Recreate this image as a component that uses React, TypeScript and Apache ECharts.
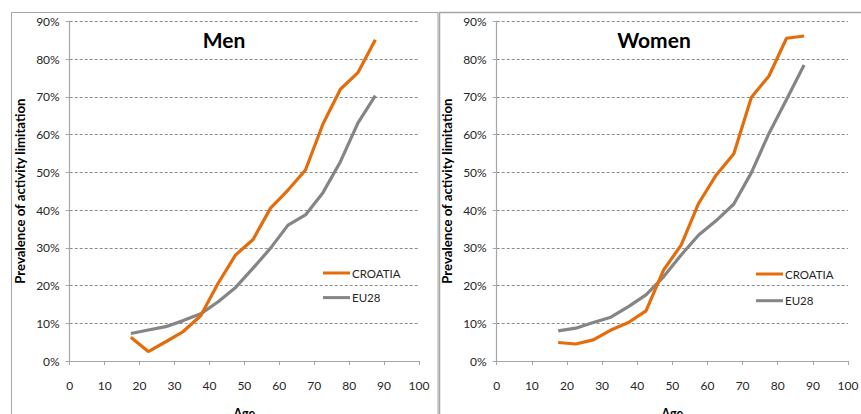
import React, { useEffect, useRef } from "react";
import * as echarts from "echarts";

const ages = [17.5, 22.5, 27.5, 32.5, 37.5, 42.5, 47.5, 52.5, 57.5, 62.5, 67.5, 72.5, 77.5, 82.5, 87.5];
const menCroatia = [6.3, 2.5, 5.1, 7.8, 12.0, 20.6, 28.1, 32.2, 40.5, 45.3, 50.6, 62.8, 72.0, 76.4, 85.1];
const menEU28 = [7.3, 8.2, 9.1, 10.7, 12.5, 15.7, 19.5, 24.6, 29.9, 36.0, 38.7, 44.6, 52.8, 63.0, 70.3];
const womenCroatia = [4.9, 4.5, 5.6, 8.2, 10.2, 13.3, 24.1, 30.7, 41.8, 49.3, 54.9, 69.9, 75.5, 85.5, 86.1];
const womenEU28 = [8.0, 8.7, 10.2, 11.6, 14.4, 17.5, 22.3, 28.1, 33.4, 37.2, 41.6, 49.9, 60.3, 69.3, 78.4];
const panelTitles = ["Men", "Women"];
const seriesNames = ["CROATIA", "EU28"];
const xAxisName = "Age";
const yAxisName = "Prevalence of activity limitation";

const FONT = "Lato, 'Noto Sans', sans-serif";
const ORANGE = "#E46C0A";
const GREY = "#858585";

export default function App() {
  const ref = useRef<HTMLDivElement>(null);
  useEffect(() => {
    if (!ref.current) return;
    const chart = echarts.init(ref.current, null, { renderer: "svg" });
    const pairs = (ys: number[]) => ages.map((a, i) => [a, ys[i] / 100]);
    const grids = [
      { left: 69.7, right: 442, top: 21.3, bottom: 53, outerBoundsMode: "none", containLabel: false },
      { left: 496.7, right: 13, top: 21.3, bottom: 53, outerBoundsMode: "none", containLabel: false },
    ];
    const xAxes = grids.map((_, i) => ({
      type: "value",
      gridIndex: i,
      min: 0,
      max: 100,
      interval: 10,
      name: xAxisName,
      nameLocation: "middle",
      nameGap: 46,
      nameTextStyle: { fontFamily: FONT, fontWeight: "bold", fontSize: 12.5, color: "#000" },
      axisLine: { show: true, lineStyle: { color: "#a6a6a6", width: 1.2 } },
      axisTick: { show: true, length: 4, lineStyle: { color: "#a6a6a6" } },
      axisLabel: { fontFamily: FONT, fontSize: 12, color: "#262626", margin: 18 },
      splitLine: { show: false },
    }));
    const yAxes = grids.map((_, i) => ({
      type: "value",
      gridIndex: i,
      min: 0,
      max: 0.9,
      interval: 0.1,
      name: yAxisName,
      nameLocation: "middle",
      nameGap: 43,
      nameTextStyle: { fontFamily: FONT, fontWeight: "bold", fontSize: 13.2, color: "#000" },
      axisLine: { show: true, lineStyle: { color: "#a6a6a6", width: 1.2 } },
      axisTick: { show: true, length: 4, lineStyle: { color: "#a6a6a6" } },
      axisLabel: {
        fontFamily: FONT,
        fontSize: 12,
        color: "#262626",
        margin: 10,
        formatter: (v: number) => Math.round(v * 100) + "%",
      },
      splitLine: { show: true, lineStyle: { color: "#8c8c8c", type: [3, 2], width: 1 } },
    }));
    const data = [
      [menCroatia, menEU28],
      [womenCroatia, womenEU28],
    ];
    const series: any[] = [];
    data.forEach((pair, gi) => {
      pair.forEach((ys, si) => {
        series.push({
          type: "line",
          name: seriesNames[si],
          xAxisIndex: gi,
          yAxisIndex: gi,
          data: pairs(ys),
          symbol: "none",
          lineStyle: { width: 3.2, color: si === 0 ? ORANGE : GREY },
          itemStyle: { color: si === 0 ? ORANGE : GREY },
          z: si === 0 ? 3 : 2,
        });
      });
    });
    const legendBase = {
      orient: "vertical",
      icon: "rect",
      itemWidth: 27,
      itemHeight: 3,
      data: seriesNames,
      selectedMode: false,
      textStyle: { fontFamily: FONT, fontSize: 11.5, color: "#262626", lineHeight: 14, padding: [0, 0, 0, -3] },
      padding: 0,
    };
    chart.setOption({
      animation: false,
      backgroundColor: "#fff",
      grid: grids,
      xAxis: xAxes,
      yAxis: yAxes,
      series,
      legend: [
        { ...legendBase, left: 323, top: 266, itemGap: 10.6 },
        { ...legendBase, left: 756, top: 267, itemGap: 12.7 },
      ],
      graphic: [
        {
          type: "rect",
          shape: { x: 11.5, y: 12.5, width: 426.5, height: 420 },
          style: { fill: "none", stroke: "#a6a6a6", lineWidth: 1 },
          silent: true,
          z: -1,
        },
        {
          type: "rect",
          shape: { x: 439.5, y: 12.5, width: 440, height: 420 },
          style: { fill: "none", stroke: "#a6a6a6", lineWidth: 1.5 },
          silent: true,
          z: -1,
        },
        {
          type: "text",
          x: 224,
          y: 39,
          style: {
            text: panelTitles[0],
            align: "center",
            verticalAlign: "middle",
            font: `bold 21px ${FONT}`,
            fill: "#000",
          },
        },
        {
          type: "text",
          x: 654,
          y: 39,
          style: {
            text: panelTitles[1],
            align: "center",
            verticalAlign: "middle",
            font: `bold 21px ${FONT}`,
            fill: "#000",
          },
        },
      ],
    });
    return () => chart.dispose();
  }, []);
  return (
    <div
      ref={ref}
      style={{ position: "absolute", left: 0, top: 0, width: 861, height: 414 }}
    />
  );
}
